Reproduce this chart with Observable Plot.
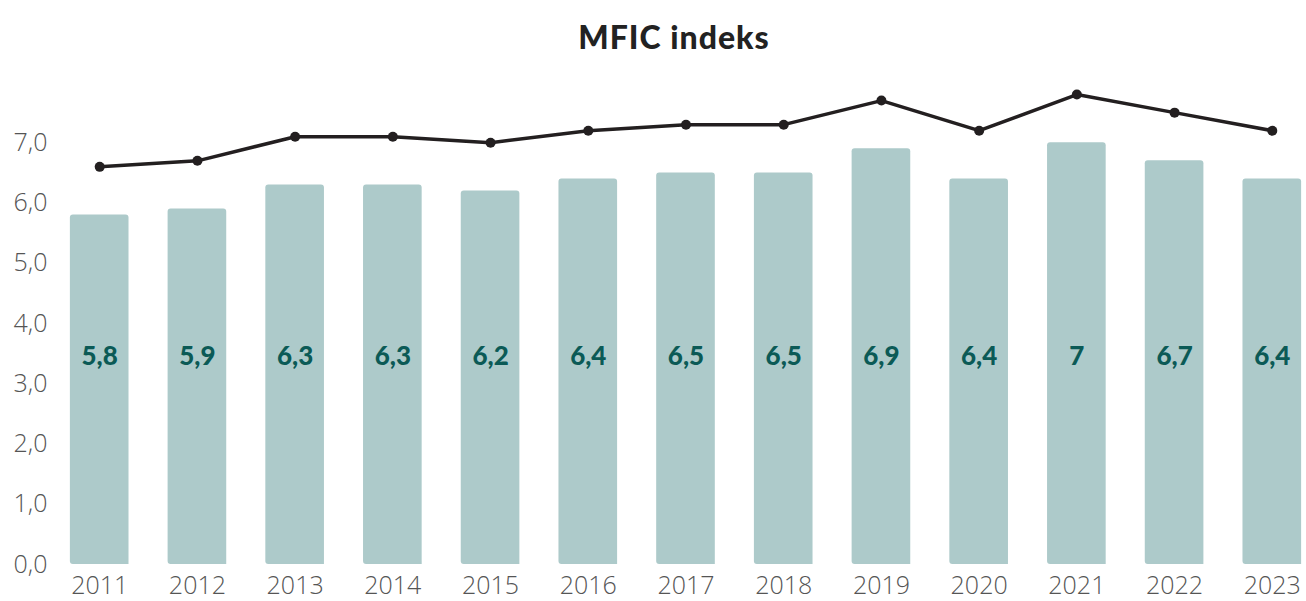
<!DOCTYPE html>
<html>
<head>
<meta charset="utf-8">
<script src="https://cdn.jsdelivr.net/npm/d3@7"></script>
<script src="https://cdn.jsdelivr.net/npm/@observablehq/plot@0.6"></script>
<style>
  html, body { margin: 0; padding: 0; background: #fff; }
  #title { height: 64px; line-height: 74px; text-align: center; padding-left: 42px; font-family: Lato, sans-serif; font-weight: 900; font-size: 32px; color: #222; letter-spacing: 1px; }
</style>
</head>
<body>
<div id="title">MFIC indeks</div>
<div id="chart"></div>
<script>
const years = ["2011","2012","2013","2014","2015","2016","2017","2018","2019","2020","2021","2022","2023"];
const barValues = [5.8, 5.9, 6.3, 6.3, 6.2, 6.4, 6.5, 6.5, 6.9, 6.4, 7.0, 6.7, 6.4];
const barLabels = ["5,8","5,9","6,3","6,3","6,2","6,4","6,5","6,5","6,9","6,4","7","6,7","6,4"];
const lineValues = [6.6, 6.7, 7.1, 7.1, 7.0, 7.2, 7.3, 7.3, 7.7, 7.2, 7.8, 7.5, 7.2];
const yTicks = [0, 1, 2, 3, 4, 5, 6, 7];

const data = years.map((y, i) => ({year: y, bar: barValues[i], label: barLabels[i], line: lineValues[i]}));

const chart = Plot.plot({
  width: 1306,
  height: 537,
  marginLeft: 65,
  marginRight: 0,
  marginTop: 18,
  marginBottom: 37,
  style: {fontFamily: "Open Sans, sans-serif", background: "#fff"},
  x: {domain: years, paddingInner: 0.4, paddingOuter: 0.05, round: false, label: null},
  y: {domain: [0, 8], label: null},
  marks: [
    Plot.barY(data, {x: "year", y: "bar", fill: "#adcaca", rx1: 3, ry1: 3}),
    Plot.text(data, {x: "year", y: 3.45, text: "label", fill: "#0b5a56", fontSize: 26, fontWeight: 900, fontFamily: "Lato, sans-serif"}),
    Plot.line(data, {x: "year", y: "line", stroke: "#231f20", strokeWidth: 3.5}),
    Plot.dot(data, {x: "year", y: "line", r: 5, fill: "#231f20"}),
    Plot.axisY({ticks: yTicks, tickFormat: d => d.toFixed(1).replace(".", ","), tickSize: 0, tickPadding: 18, fontSize: 25, fontWeight: 300, fill: "#555"}),
    Plot.axisX({tickSize: 0, tickPadding: 12, fontSize: 25, fontWeight: 300, fill: "#555"})
  ]
});
document.getElementById("chart").appendChild(chart);
</script>
</body>
</html>
